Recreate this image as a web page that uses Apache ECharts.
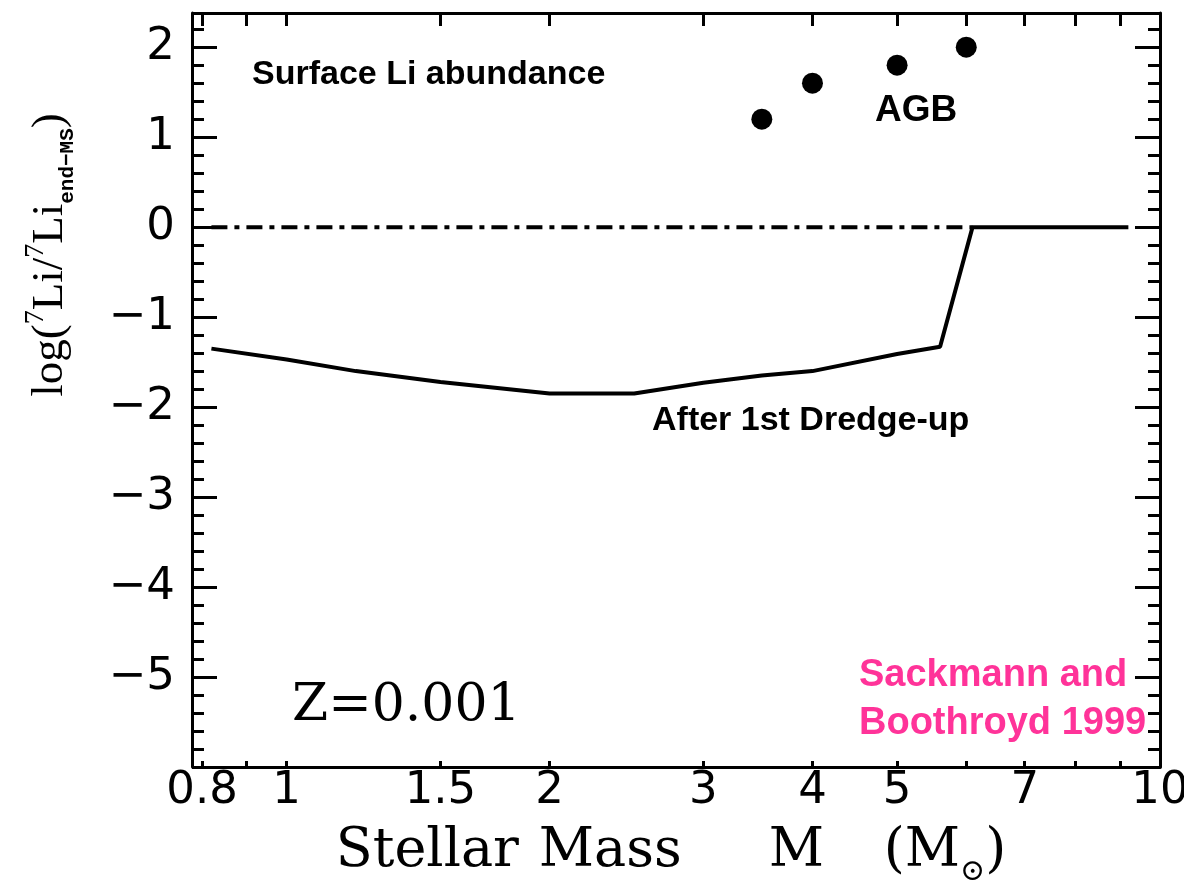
<!DOCTYPE html>
<html><head><meta charset="utf-8">
<script src="https://cdn.jsdelivr.net/npm/echarts@6/dist/echarts.min.js"></script>
<style>html,body{margin:0;padding:0;background:#fff}#c{width:1184px;height:887px}</style>
</head><body><div id="c"></div>
<script>
const agbMass = [3.5, 4, 5, 6];
const agbLogLi = [1.2, 1.6, 1.8, 2.0];
const refMass = [0.82, 6.1];
const refLogLi = [0, 0];
const dredgeMass = [0.82, 1.0, 1.2, 1.5, 2.0, 2.5, 3.0, 3.5, 4.0, 5.0, 5.6, 6.1, 9.2];
const dredgeLogLi = [-1.35, -1.47, -1.60, -1.72, -1.85, -1.85, -1.73, -1.65, -1.60, -1.41, -1.33, 0, 0];
const xTickValues = [0.8, 0.9, 1, 1.5, 2, 3, 4, 5, 6, 7, 8, 9, 10];
const xLabelValues = [0.8, 1, 1.5, 2, 3, 4, 5, 7, 10];
const yLabelValues = [-5, -4, -3, -2, -1, 0, 1, 2];

const zip = (a, b) => a.map((v, i) => [v, b[i]]);
const chart = echarts.init(document.getElementById('c'), null, {renderer: 'canvas'});
const K = '#000';
const tickFont = 'DejaVu Sans';
const serif = 'DejaVu Serif';

const xBase = {
  type: 'log', logBase: 10, min: 0.7999, max: 10.0001,
  splitLine: {show: false}, minorSplitLine: {show: false},
  axisLine: {show: true, onZero: false, lineStyle: {color: K, width: 3}},
};
const yBase = {
  type: 'value', min: -6, max: 2.38, interval: 1,
  splitLine: {show: false},
  axisLine: {show: true, onZero: false, lineStyle: {color: K, width: 3}},
  axisTick: {show: true, inside: true, length: 25, lineStyle: {color: K, width: 3}},
  minorTick: {show: true, splitNumber: 5, length: 12, lineStyle: {color: K, width: 3}},
};
const nameTok = {fontFamily: serif, fontSize: 54, lineHeight: 70, color: K, align: 'left'};

chart.setOption({
  animation: false,
  backgroundColor: '#fff',
  grid: {left: 202, right: 24, top: 13, bottom: 120, containLabel: false, outerBoundsMode: 'none'},
  xAxis: [
    Object.assign({}, xBase, {
      position: 'bottom',
      axisTick: {show: true, inside: true, length: 6, customValues: xTickValues, lineStyle: {color: K, width: 3}},
      axisLabel: {show: true, customValues: xLabelValues, margin: 2, color: K, fontFamily: tickFont, fontSize: 45,
        formatter: v => String(+(+v).toPrecision(3))},
      name: '{w1|Stellar}{w2|Mass}{w3|M}{n|(M}{o|\u2299}{n|)}',
      nameLocation: 'middle', nameGap: 50,
      nameTextStyle: {padding: [0, 20, 0, 0], rich: {
        w1: Object.assign({}, nameTok, {width: 203}),
        w2: Object.assign({}, nameTok, {width: 230}),
        w3: Object.assign({}, nameTok, {width: 115}),
        n: nameTok,
        o: {fontFamily: serif, fontSize: 30, lineHeight: 30, color: K, verticalAlign: 'bottom'}
      }}
    }),
    Object.assign({}, xBase, {
      position: 'top',
      axisTick: {show: true, inside: true, length: 13, customValues: xTickValues, lineStyle: {color: K, width: 3}},
      axisLabel: {show: false}
    })
  ],
  yAxis: [
    Object.assign({}, yBase, {
      position: 'left', offset: 10,
      axisLabel: {show: true, customValues: yLabelValues, margin: 17, color: K, fontFamily: tickFont, fontSize: 45,
        formatter: v => (v < 0 ? '\u2212' + (-v) : String(v))},
      name: '{n|log(}{s|7}{n|Li/}{s|7}{n|Li}{b|end\u2212MS}{n|)}',
      nameLocation: 'middle', nameRotate: 90, nameGap: 114,
      nameTextStyle: {padding: [0, 0, 0, 270], rich: {
        n: {fontFamily: 'Liberation Serif', fontSize: 45, lineHeight: 56, color: K},
        s: {fontFamily: 'Liberation Serif', fontSize: 28, lineHeight: 28, color: K, verticalAlign: 'top'},
        b: {fontFamily: 'Liberation Mono', fontWeight: 'bold', fontSize: 21, lineHeight: 21, color: K, verticalAlign: 'bottom'}
      }}
    }),
    Object.assign({}, yBase, {
      position: 'right',
      axisLabel: {show: false}
    })
  ],
  series: [
    {type: 'line', xAxisIndex: 0, yAxisIndex: 0, data: zip(refMass, refLogLi), symbol: 'none',
      lineStyle: {color: K, width: 4, type: [16, 7, 5, 7]}, silent: true},
    {type: 'line', xAxisIndex: 0, yAxisIndex: 0, data: zip(dredgeMass, dredgeLogLi), symbol: 'none',
      lineStyle: {color: K, width: 4}, silent: true},
    {type: 'scatter', xAxisIndex: 0, yAxisIndex: 0, data: zip(agbMass, agbLogLi), symbol: 'circle', symbolSize: 21,
      itemStyle: {color: K, opacity: 1}}
  ],
  graphic: [
    {type: 'text', left: 252, top: 58, style: {text: 'Surface Li abundance', font: 'bold 34px "Liberation Sans"', fill: K}},
    {type: 'text', left: 875, top: 92, style: {text: 'AGB', font: 'bold 37px "Liberation Sans"', fill: K}},
    {type: 'text', left: 652, top: 404, style: {text: 'After 1st Dredge-up', font: 'bold 34px "Liberation Sans"', fill: K}},
    {type: 'text', left: 292, top: 680, style: {text: 'Z=0.001', font: '52px "DejaVu Serif"', fill: K}},
    {type: 'text', left: 859, top: 652, style: {text: 'Sackmann and\nBoothroyd 1999', font: 'bold 38px "Liberation Sans"', fill: '#ff3399', align: 'center', lineHeight: 48}}
  ]
});
</script></body></html>
